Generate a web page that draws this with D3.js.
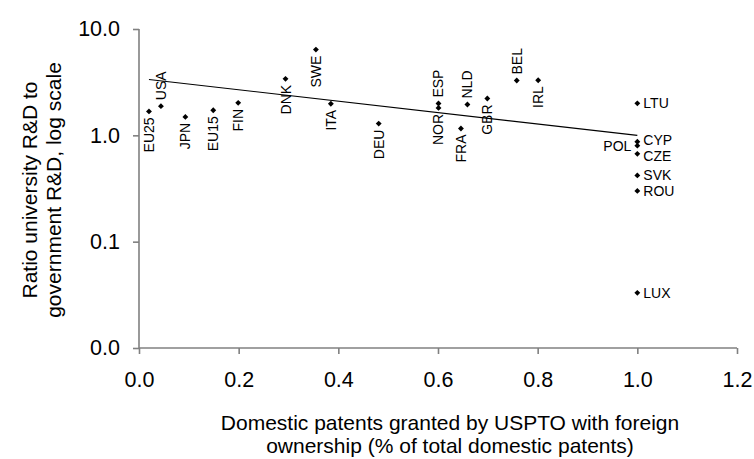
<!DOCTYPE html>
<html>
<head>
<meta charset="utf-8">
<script src="https://cdn.jsdelivr.net/npm/d3@7"></script>
<style>
  body { margin: 0; background: #fff; }
  svg { display: block; font-family: "Liberation Sans", Arial, sans-serif; }
</style>
</head>
<body>
<div id="chart"></div>
<script>
// Données
const countries = ['EU25', 'USA', 'JPN', 'EU15', 'FIN', 'DNK', 'SWE', 'ITA', 'DEU',
                   'ESP', 'NOR', 'FRA', 'NLD', 'GBR', 'BEL', 'IRL',
                   'LTU', 'CYP', 'POL', 'CZE', 'SVK', 'ROU', 'LUX'];
const foreignShare = [0.02, 0.044, 0.093, 0.149, 0.199, 0.294, 0.355, 0.385, 0.481,
                      0.601, 0.601, 0.646, 0.659, 0.699, 0.758, 0.801,
                      1.0, 1.0, 1.0, 1.0, 1.0, 1.0, 1.0];
const rdRatio = [1.68, 1.88, 1.49, 1.72, 2.02, 3.40, 6.4, 1.98, 1.29,
                 1.99, 1.81, 1.16, 1.95, 2.22, 3.28, 3.30,
                 2.0, 0.87, 0.80, 0.67, 0.42, 0.30, 0.033];
// position de l'étiquette : b = dessous, a = dessus (vertical), r = droite, l = gauche
const labelSide = ['b', 'a', 'b', 'b', 'b', 'b', 'b', 'b', 'b',
                   'a', 'b', 'b', 'a', 'b', 'a', 'b',
                   'r', 'r', 'l', 'r', 'r', 'r', 'r'];

const trendX = [0.02, 1.0];
const trendY = [3.35, 1.0];

const xTicks = [0, 0.2, 0.4, 0.6, 0.8, 1.0, 1.2];
const yTicks = [0.01, 0.1, 1, 10];

const W = 754, H = 459;
const margin = { left: 139, right: 17, top: 29, bottom: 111 };

const svg = d3.select('#chart').append('svg')
    .attr('width', W)
    .attr('height', H);

const x = d3.scaleLinear().domain([0, 1.2]).range([margin.left, W - margin.right]);
const y = d3.scaleLog().domain([0.01, 10]).range([H - margin.bottom, margin.top]);

const fmt = d3.format('.1f');

// ── Axes ──────────────────────────────────────────────────────────────
const xAxis = svg.append('g')
    .attr('transform', `translate(0,${y(0.01)})`)
    .call(d3.axisBottom(x).tickValues(xTicks).tickFormat(fmt).tickSize(6).tickPadding(18));

const yAxis = svg.append('g')
    .attr('transform', `translate(${x(0)},0)`)
    .call(d3.axisLeft(y).tickValues(yTicks).tickFormat(fmt).tickSize(6).tickPadding(13));

[xAxis, yAxis].forEach(g => {
    g.select('.domain').attr('stroke', '#808080').attr('stroke-width', 1.6);
    g.selectAll('.tick line').attr('stroke', '#808080').attr('stroke-width', 1.6);
    g.selectAll('.tick text')
        .attr('fill', '#000')
        .attr('font-size', '21.5px')
        .attr('font-family', '"Liberation Sans", Arial, sans-serif');
});
// pas de "fermetures" aux extrémités du domaine
xAxis.select('.domain').attr('d', `M${x(0)},0H${x(1.2)}`);
yAxis.select('.domain').attr('d', `M0,${y(0.01)}V${y(10)}`);

// ── Courbe de tendance ───────────────────────────────────────────────
svg.append('path')
    .datum(trendX.map((v, i) => [v, trendY[i]]))
    .attr('fill', 'none')
    .attr('stroke', '#000')
    .attr('stroke-width', 1.2)
    .attr('d', d3.line().x(d => x(d[0])).y(d => y(d[1])));

// ── Points ───────────────────────────────────────────────────────────
const points = countries.map((c, i) => ({
    name: c, x: foreignShare[i], y: rdRatio[i], side: labelSide[i]
}));

svg.append('g').selectAll('path')
    .data(points)
    .join('path')
    .attr('transform', d => `translate(${x(d.x)},${y(d.y)})`)
    .attr('d', d3.symbol(d3.symbolDiamond2, 22))
    .attr('fill', '#000');

// ── Étiquettes ───────────────────────────────────────────────────────
const gap = 6;
// petit décalage vertical pour les étiquettes serrées (CYP / CZE)
const nudge = { CYP: -2, CZE: 2 };
svg.append('g').selectAll('text')
    .data(points)
    .join('text')
    .attr('font-size', '14px')
    .attr('fill', '#000')
    .attr('dominant-baseline', 'central')
    .attr('text-anchor', d => (d.side === 'b' || d.side === 'l') ? 'end' : 'start')
    .attr('transform', d => {
        const px = x(d.x), py = y(d.y) + (nudge[d.name] || 0);
        if (d.side === 'b') return `translate(${px},${py + gap}) rotate(-90)`;
        if (d.side === 'a') return `translate(${px},${py - gap}) rotate(-90)`;
        if (d.side === 'r') return `translate(${px + gap},${py})`;
        return `translate(${px - gap},${py})`;
    })
    .text(d => d.name);

// ── Titres des axes ──────────────────────────────────────────────────
const xTitle = svg.append('text')
    .attr('x', 450)
    .attr('y', 430)
    .attr('text-anchor', 'middle')
    .attr('font-size', '21px');
xTitle.append('tspan').attr('x', 450).text('Domestic patents granted by USPTO with foreign');
xTitle.append('tspan').attr('x', 450).attr('dy', 23).text('ownership (% of total domestic patents)');

const yTitle = svg.append('text')
    .attr('transform', 'translate(37,190) rotate(-90)')
    .attr('text-anchor', 'middle')
    .attr('font-size', '21px');
yTitle.append('tspan').attr('x', 0).text('Ratio university R&D to');
yTitle.append('tspan').attr('x', 0).attr('dy', 24).text('government R&D, log scale');
</script>
</body>
</html>
